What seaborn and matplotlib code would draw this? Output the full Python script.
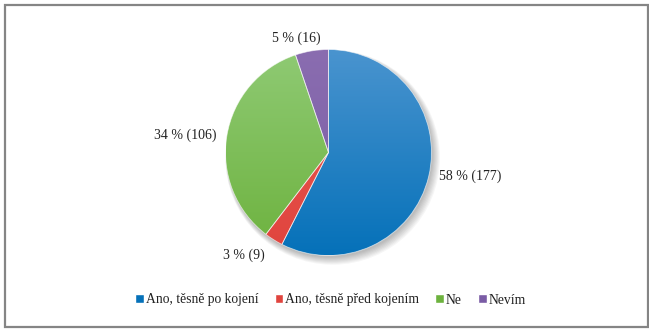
import numpy as np
import matplotlib
matplotlib.use("Agg")
import matplotlib.pyplot as plt
from matplotlib.colors import LinearSegmentedColormap
from matplotlib.patches import Rectangle, Circle
import seaborn as sns

# Survey answers and counts
categories = ["Ano, těsně po kojení", "Ano, těsně před kojením", "Ne", "Nevím"]
counts = [177, 9, 106, 16]
percent_labels = ["58 %", "3 %", "34 %", "5 %"]

sns.set_theme(style="white")
plt.rcParams["font.family"] = ["Liberation Serif", "DejaVu Serif"]

# top / bottom shades of each slice gradient
top_colors = ["#4A94CF", "#EA5A52", "#8FCA74", "#8A6DB0"]
bottom_colors = ["#0571B9", "#E0443E", "#6DB23E", "#7A5CA5"]
base_colors = sns.color_palette(bottom_colors)

W, H = 649, 329
fig = plt.figure(figsize=(W / 100, H / 100), dpi=100)
fig.patch.set_facecolor("white")

# pie centre and radius in pixels
cx, cy, rad = 328.5, 152.5, 103.0
ax = fig.add_axes([0, 0, 1, 1])
xlim = (-cx / rad, (W - cx) / rad)
ylim = (-(H - cy) / rad, cy / rad)

# soft shadow below the pie
for i in range(8):
    ax.add_patch(Circle((0.012 + 0.004 * i, -0.02 - 0.004 * i), 1.0 + 0.006 * i,
                        facecolor="#000000", alpha=0.035, edgecolor="none", zorder=0))

wedges, _ = ax.pie(counts, colors=base_colors, startangle=90, counterclock=False,
                   radius=1.0, wedgeprops=dict(linewidth=0.6, edgecolor="white"))

grad = np.linspace(0, 1, 256).reshape(-1, 1)
for w, c0, c1 in zip(wedges, top_colors, bottom_colors):
    cmap = LinearSegmentedColormap.from_list("g", [c0, c1])
    im = ax.imshow(grad, cmap=cmap, extent=(-1, 1, -1, 1), origin="upper",
                   aspect="auto", zorder=w.get_zorder() + 0.1)
    im.set_clip_path(w)
    w.set_zorder(w.get_zorder() + 0.2)
    w.set_facecolor("none")
    w.set_edgecolor((1, 1, 1, 0.6))

# value labels placed outside each slice (offsets in pixels)
nudges = [(0, 3), (-3, -7), (0, -1), (11, 2)]
for w, pct, n, (dx, dy) in zip(wedges, percent_labels, counts, nudges):
    ang = np.deg2rad((w.theta1 + w.theta2) / 2)
    x, y = 1.1 * np.cos(ang), 1.1 * np.sin(ang)
    ha = "left" if x > 0 else "right"
    ax.annotate(f"{pct} ({n})", (x, y), xytext=(dx * 0.72, dy * 0.72),
                textcoords="offset points", ha=ha, va="center",
                fontsize=10, color="#222222", zorder=5)

ax.set_xlim(*xlim)
ax.set_ylim(*ylim)
ax.set_aspect("auto")
ax.axis("off")

handles = [Rectangle((0, 0), 1, 1, facecolor=c) for c in bottom_colors]
fig.legend(handles, categories, loc="center", bbox_to_anchor=(330.5 / W, 1 - 300 / H),
           ncol=4, frameon=False, fontsize=9.8, handlelength=0.65, handleheight=0.65,
           handletextpad=0.12, columnspacing=1.2, labelcolor="#222222")

# grey frame around the chart
fig.patches.append(Rectangle((5 / W, (H - 327) / H), 643 / W, 322 / H,
                             transform=fig.transFigure, fill=False,
                             edgecolor="#858585", linewidth=1.6))

fig.savefig("out.png", dpi=100, facecolor="white")
